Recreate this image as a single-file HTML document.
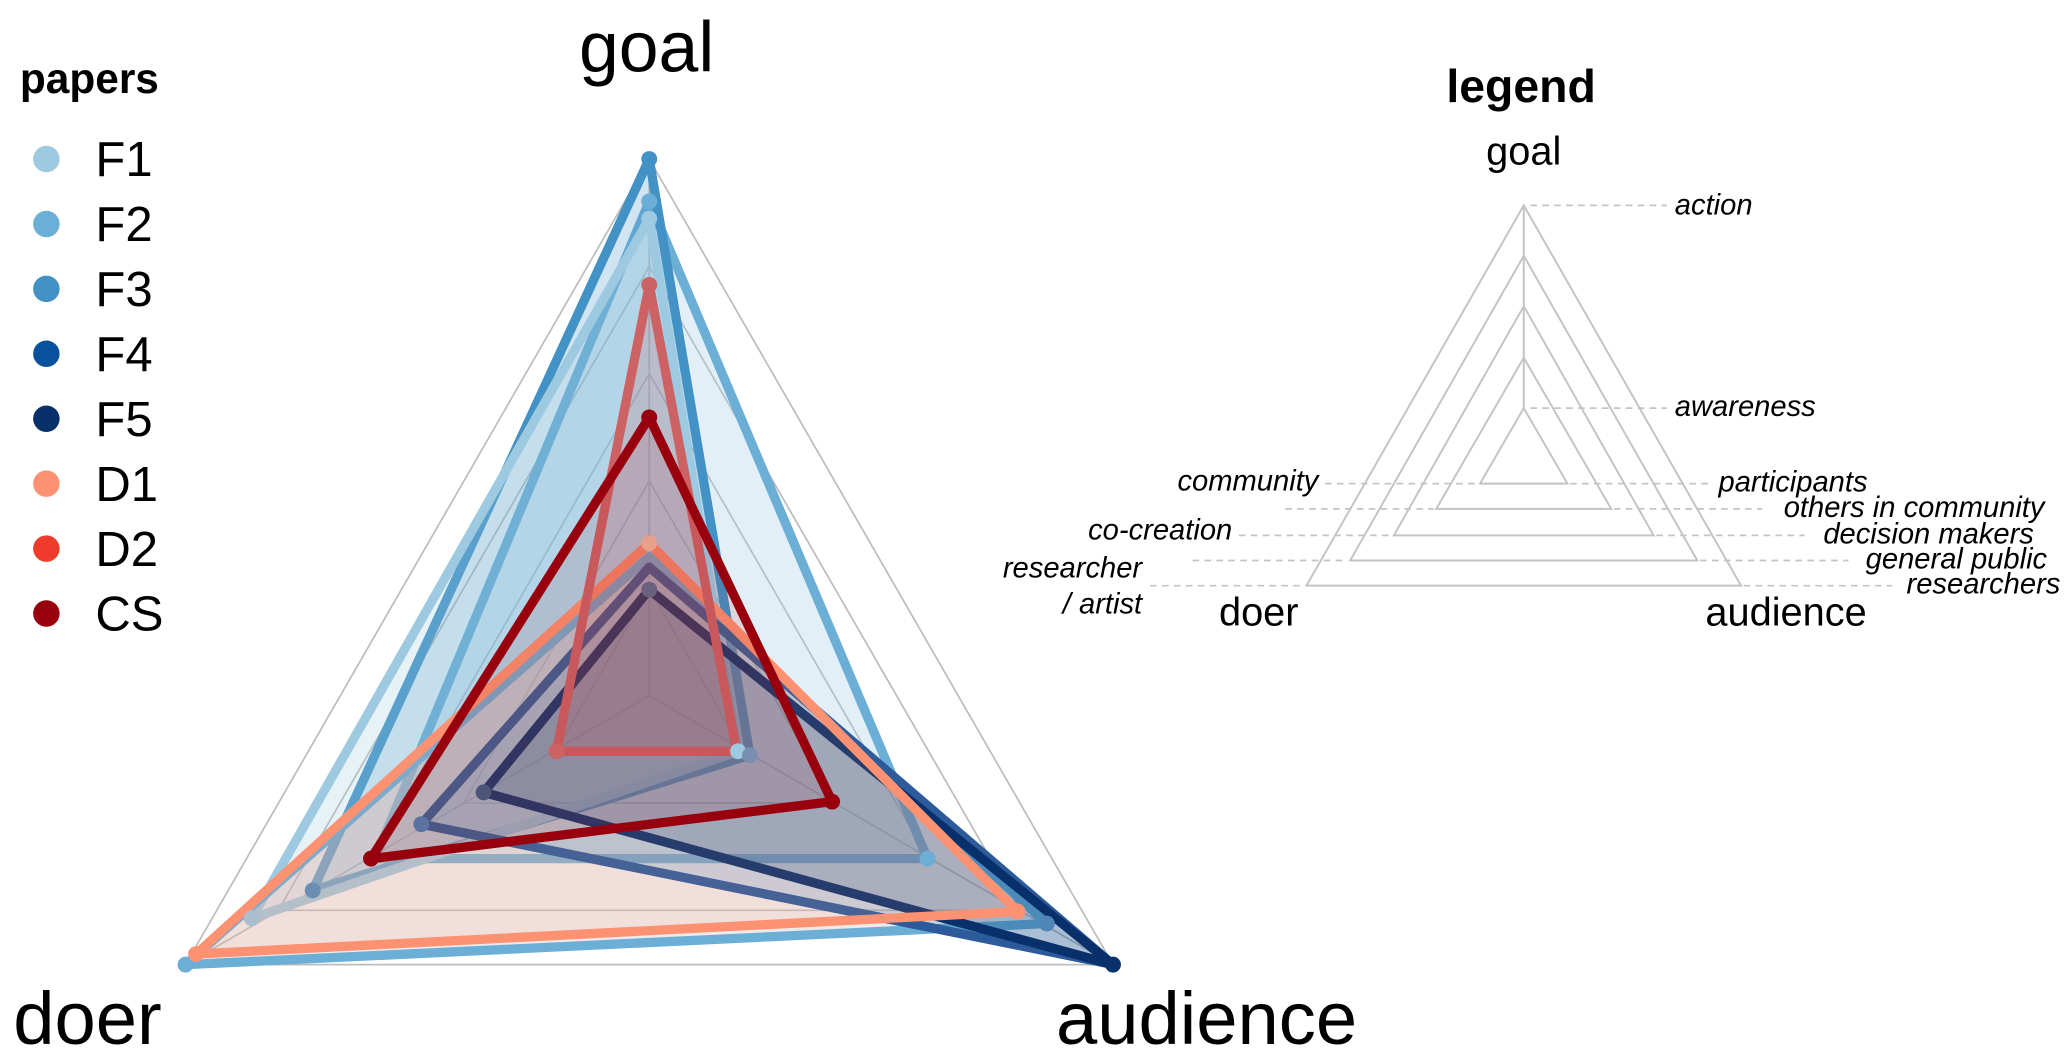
<!DOCTYPE html>
<html><head><meta charset="utf-8"><style>html,body{margin:0;padding:0;background:#fff}svg{display:block}</style></head>
<body>
<svg width="2067" height="1059" viewBox="0 0 1560 799.2" xmlns="http://www.w3.org/2000/svg" font-family="Liberation Sans, Arial, sans-serif">
<rect width="1560" height="800" fill="#fff"/>
<g stroke="#bdbdbd" stroke-width="1.3" fill="none">
<polygon points="490,120 840,728 140,728"/>
<polygon points="490,201 770,687 210,687"/>
<polygon points="490,282 700,647 280,647"/>
<polygon points="490,363 630,606 350,606"/>
<polygon points="490,444 560,566 420,566"/>
<line x1="490" y1="525" x2="490" y2="120"/>
<line x1="490" y1="525" x2="840" y2="728"/>
<line x1="490" y1="525" x2="140" y2="728"/>
</g>
<g stroke-width="7" stroke-linejoin="round">
<polygon points="490,152 700,648 283,648" fill="#9ecae1" fill-opacity="0.3" stroke="#6baed6"/>
<polygon points="490,120 566,570 236,672" fill="#4292c6" fill-opacity="0.25" stroke="#4292c6"/>
<polygon points="490,165 557,567 190,693" fill="#9ecae1" fill-opacity="0.25" stroke="#9ecae1"/>
<polygon points="490,420 790,697 140,728" fill="#c9b8b8" fill-opacity="0.3" stroke="#6baed6"/>
<polygon points="490,428 840,728 318,622" fill="#2171b5" fill-opacity="0.2" stroke="#2c5a9a"/>
<polygon points="490,445 840,728 365,598" fill="#08306b" fill-opacity="0.2" stroke="#08306b"/>
<polygon points="490,410 768,688 148,720" fill="#fc9272" fill-opacity="0.12" stroke="#fc9272"/>
<polygon points="490,215 556,567 420,567" fill="#de2d26" fill-opacity="0.15" stroke="#cd6265"/>
<polygon points="490,315 628,605 280,648" fill="#99000d" fill-opacity="0.1" stroke="#99000d"/>
</g>
<g>
<circle cx="490" cy="165" r="6" fill="#9ecae1"/><circle cx="557" cy="567" r="6" fill="#9ecae1"/><circle cx="190" cy="693" r="6" fill="#a9bfd0"/>
<circle cx="490" cy="120" r="6" fill="#4292c6"/><circle cx="566" cy="570" r="6" fill="#7a8fb0"/><circle cx="236" cy="672" r="6" fill="#6a8fb3"/>
<circle cx="490" cy="152" r="6" fill="#6baed6"/><circle cx="700" cy="648" r="6" fill="#6baed6"/><circle cx="140" cy="728" r="6" fill="#6baed6"/><circle cx="790" cy="697" r="6" fill="#4f86b8"/>
<circle cx="318" cy="622" r="6" fill="#5a73a0"/>
<circle cx="840" cy="728" r="6" fill="#08306b"/><circle cx="490" cy="445" r="6" fill="#6a6080"/><circle cx="365" cy="598" r="6" fill="#4a5578"/>
<circle cx="490" cy="410" r="6" fill="#e8a08a"/><circle cx="768" cy="688" r="6" fill="#fc9272"/><circle cx="148" cy="720" r="6" fill="#fc9272"/>
<circle cx="490" cy="215" r="6" fill="#cd6265"/><circle cx="420" cy="567" r="6" fill="#cd6265"/>
<circle cx="490" cy="315" r="6" fill="#99000d"/><circle cx="628" cy="605" r="6" fill="#99000d"/><circle cx="280" cy="648" r="6" fill="#99000d"/>
</g>
<text x="488" y="54" font-size="54" text-anchor="middle">goal</text>
<text x="10" y="788" font-size="56">doer</text>
<text x="797" y="788" font-size="56">audience</text>
<text x="15" y="70" font-size="32" font-weight="bold">papers</text>
<g font-size="37">
<circle cx="35" cy="120" r="10" fill="#9ecae1"/><text x="72" y="133">F1</text>
<circle cx="35" cy="169" r="10" fill="#6baed6"/><text x="72" y="182">F2</text>
<circle cx="35" cy="218" r="10" fill="#4292c6"/><text x="72" y="231">F3</text>
<circle cx="35" cy="267" r="10" fill="#08519c"/><text x="72" y="280">F4</text>
<circle cx="35" cy="316" r="10" fill="#08306b"/><text x="72" y="329">F5</text>
<circle cx="35" cy="365" r="10" fill="#fc9272"/><text x="72" y="378">D1</text>
<circle cx="35" cy="414" r="10" fill="#ef3b2c"/><text x="72" y="427">D2</text>
<circle cx="35" cy="463" r="10" fill="#99000d"/><text x="72" y="476">CS</text>
</g>
<text x="1148" y="77" font-size="35" font-weight="bold" text-anchor="middle">legend</text>
<text x="1150" y="124" font-size="30" text-anchor="middle">goal</text>
<g stroke="#c4c4c4" stroke-width="1.5" fill="none">
<polygon points="1150,155 1314,442 986,442"/>
<polygon points="1150,193 1281,423 1019,423"/>
<polygon points="1150,231 1248,404 1052,404"/>
<polygon points="1150,270 1216,384 1084,384"/>
<polygon points="1150,308 1183,365 1117,365"/>
<line x1="1150" y1="155" x2="1150" y2="308"/>
</g>
<g stroke="#c4c4c4" stroke-width="1.3" stroke-dasharray="5,4">
<line x1="1155" y1="155" x2="1258" y2="155"/>
<line x1="1155" y1="308" x2="1258" y2="308"/>
<line x1="1185" y1="365" x2="1290" y2="365"/>
<line x1="1218" y1="384" x2="1330" y2="384"/>
<line x1="1250" y1="404" x2="1362" y2="404"/>
<line x1="1283" y1="423" x2="1395" y2="423"/>
<line x1="1316" y1="442" x2="1428" y2="442"/>
<line x1="1000" y1="365" x2="1115" y2="365"/>
<line x1="970" y1="384" x2="1082" y2="384"/>
<line x1="935" y1="404" x2="1050" y2="404"/>
<line x1="900" y1="423" x2="1017" y2="423"/>
<line x1="868" y1="442" x2="984" y2="442"/>
</g>
<g font-size="22" font-style="italic">
<text x="1264" y="162">action</text>
<text x="1264" y="314">awareness</text>
<text x="1297" y="371">participants</text>
<text x="1543" y="390" text-anchor="end">others in community</text>
<text x="1535" y="410" text-anchor="end">decision makers</text>
<text x="1545" y="429" text-anchor="end">general public</text>
<text x="1555" y="448" text-anchor="end">researchers</text>
<text x="995" y="370" text-anchor="end">community</text>
<text x="930" y="407" text-anchor="end">co-creation</text>
<text x="862" y="436" text-anchor="end">researcher</text>
<text x="862" y="463" text-anchor="end">/ artist</text>
</g>
<text x="950" y="472" font-size="30" text-anchor="middle">doer</text>
<text x="1348" y="472" font-size="30" text-anchor="middle">audience</text>
</svg>
</body></html>
